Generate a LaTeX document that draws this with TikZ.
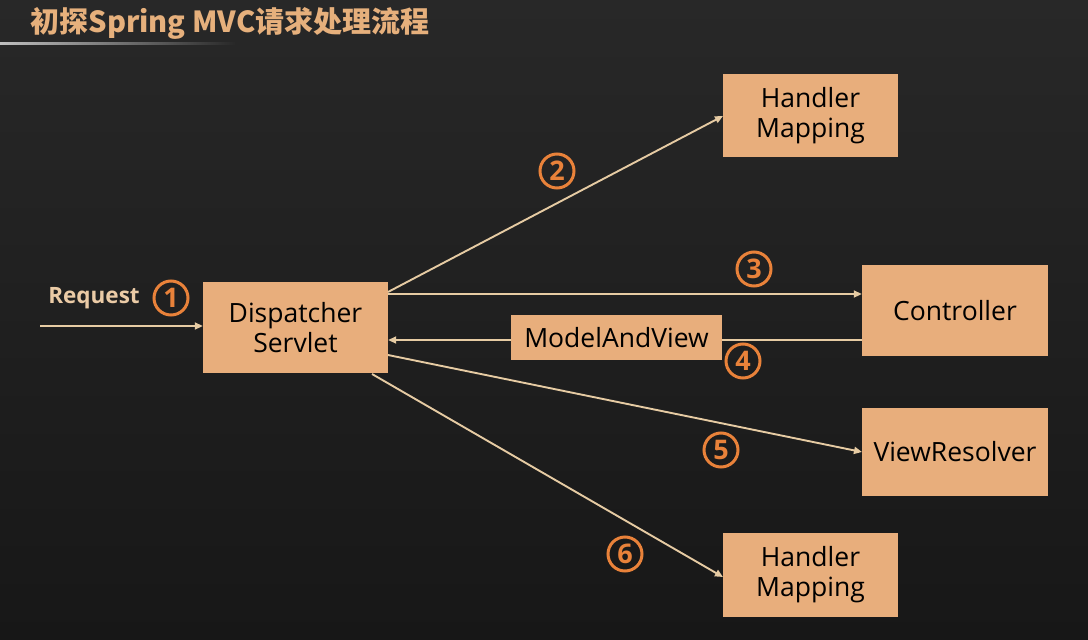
\documentclass[tikz,border=0pt]{standalone}
\usepackage{fontspec}
\setmainfont{Open Sans}
\newfontfamily\cjk{Noto Sans CJK SC}
\usetikzlibrary{arrows.meta}
\definecolor{bgtop}{HTML}{282828}
\definecolor{bgbot}{HTML}{171717}
\definecolor{boxfill}{HTML}{E8AE7C}
\definecolor{arrowc}{HTML}{E6CBA3}
\definecolor{numc}{HTML}{E9823A}
\definecolor{titlec}{HTML}{E6B07C}
\definecolor{reqc}{HTML}{EBCBA6}
\tikzset{
  box/.style={fill=boxfill, draw=none, inner sep=0pt, align=center, font=\fontsize{26.5}{30}\selectfont, text=black},
  flow/.style={draw=arrowc, line width=1.9pt, -{Triangle[length=8pt,width=7pt]}},
  num/.style={circle, draw=numc, line width=3pt, minimum size=34pt, inner sep=0pt, text=numc, font=\bfseries\fontsize{27}{27}\selectfont}
}
\begin{document}
\begin{tikzpicture}[x=1pt,y=-1pt]
\useasboundingbox (0,0) rectangle (1088,640);
\shade[top color=bgtop, bottom color=bgbot] (0,0) rectangle (1088,640);
% title
\node[anchor=west, text=titlec, font=\cjk\bfseries\fontsize{29}{32}\selectfont] (title) at (27,23) {初探Spring MVC请求处理流程};
\shade[left color=white!75!black, right color=bgtop] (0,42.5) rectangle (235,44.5);
% boxes
\node[box, minimum width=185pt, minimum height=91pt] (ds) at (295.5,327.5) {Dispatcher\\Servlet};
\node[box, minimum width=175pt, minimum height=83pt] (hm1) at (810.5,115.5) {Handler\\Mapping};
\node[box, minimum width=186pt, minimum height=91pt] (ctrl) at (955,310.5) {Controller};
\node[box, minimum width=186pt, minimum height=88pt] (vr) at (955,452) {ViewResolver};
\node[box, minimum width=175pt, minimum height=84pt] (hm2) at (810.5,575) {Handler\\Mapping};
% request
\coordinate (reqstart) at (40,326);
\node[text=reqc, font=\bfseries\fontsize{22.5}{24}\selectfont] (req) at (94,298) {Request};
\draw[flow] (reqstart) -- (ds.west |- reqstart);
% arrows
\coordinate (s2) at (388,292);
\coordinate (e2) at (723,116);
\draw[flow] (s2) -- (e2);
\draw[flow] (ds.east |- 0,294) -- (ctrl.west |- 0,294);
\draw[flow] (ctrl.west |- 0,340) -- (ds.east |- 0,340);
\node[box, minimum width=211pt, minimum height=45pt] (mav) at (616.5,337.5) {ModelAndView};
\coordinate (s5) at (388,355);
\coordinate (e5) at (862,452);
\draw[flow] (s5) -- (e5);
\coordinate (s6) at (372,374);
\coordinate (e6) at (723,577);
\draw[flow] (s6) -- (e6);
% numbers
\node[num] (n1) at (171,298) {1};
\node[num] (n2) at (557,171) {2};
\node[num] (n3) at (754,269) {3};
\node[num] (n4) at (743,361) {4};
\node[num] (n5) at (721,450) {5};
\node[num] (n6) at (625,554) {6};
\end{tikzpicture}
\end{document}
